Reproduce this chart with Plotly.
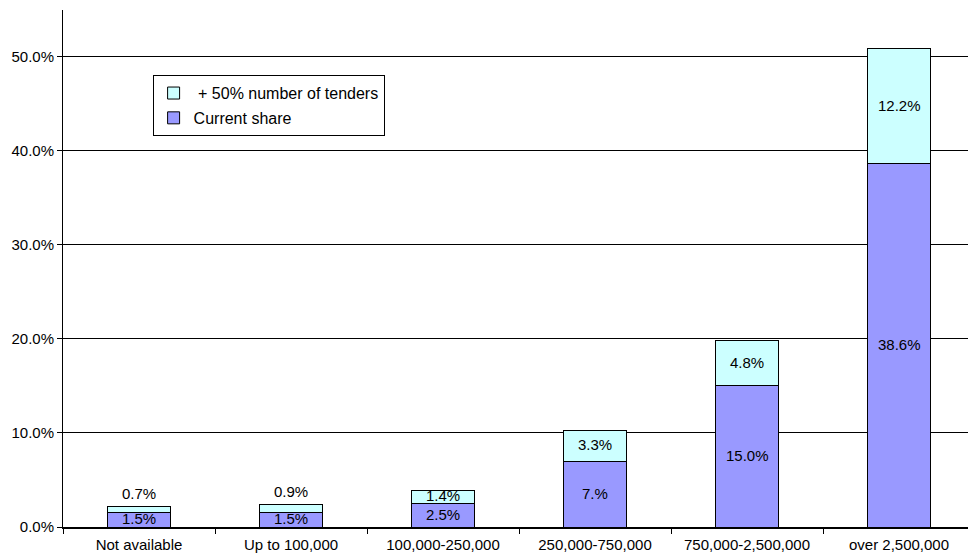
import plotly.graph_objects as go

# Tender value bands and share of tenders (percent)
categories = ["Not available", "Up to 100,000", "100,000-250,000",
              "250,000-750,000", "750,000-2,500,000", "over 2,500,000"]
current_share = [1.5, 1.5, 2.5, 7.0, 15.0, 38.6]
extra_tenders = [0.7, 0.9, 1.4, 3.3, 4.8, 12.2]
current_labels = ["1.5%", "1.5%", "2.5%", "7.%", "15.0%", "38.6%"]
extra_labels = ["0.7%", "0.9%", "1.4%", "3.3%", "4.8%", "12.2%"]

FONT = "Liberation Sans, Arial, sans-serif"
BAR_WIDTH = 0.41

fig = go.Figure()
fig.add_trace(go.Bar(
    x=categories, y=current_share, name="Current share",
    marker=dict(color="#9999FF", line=dict(color="black", width=1)),
    width=BAR_WIDTH, legendgroup="cur", legendrank=2,
))
fig.add_trace(go.Bar(
    x=categories, y=extra_tenders, name=" + 50% number of tenders",
    marker=dict(color="#CCFFFF", line=dict(color="black", width=1)),
    width=BAR_WIDTH, legendgroup="ext", legendrank=1,
))

# Value labels: centred in each segment, small top segments sit above the bar
annotations = []
for cat, cur, ext, cl, el in zip(categories, current_share, extra_tenders,
                                 current_labels, extra_labels):
    annotations.append(dict(x=cat, y=cur / 2, text=cl, showarrow=False,
                            yshift=1, font=dict(family=FONT, size=15, color="black")))
    ey = cur + ext / 2 if ext >= 1.0 else cur + ext + 1.3
    annotations.append(dict(x=cat, y=ey, text=el, showarrow=False,
                            yshift=1, font=dict(family=FONT, size=15, color="black")))

fig.update_layout(
    width=968, height=556,
    margin=dict(l=63, r=0, t=10, b=29),
    barmode="stack",
    plot_bgcolor="white", paper_bgcolor="white",
    font=dict(family=FONT, size=15, color="black"),
    showlegend=True,
    legend=dict(
        x=0.099, y=0.874, xanchor="left", yanchor="top",
        bgcolor="white", bordercolor="black", borderwidth=1,
        traceorder="grouped", tracegroupgap=1,
        font=dict(family=FONT, size=16, color="black"),
        itemwidth=30,
    ),
    annotations=annotations,
)
fig.update_xaxes(
    type="category", range=[-0.5, -0.5 + 905 / 152],
    tickson="boundaries", ticks="outside", ticklen=5, tickcolor="black",
    showline=True, linecolor="black", linewidth=2,
    showgrid=False, ticklabelstandoff=3,
    tickfont=dict(family=FONT, size=15, color="black"),
)
fig.update_yaxes(
    range=[0, 54.94], dtick=10, tickformat=".1f", ticksuffix="%",
    ticks="outside", ticklen=5, tickcolor="black",
    showline=True, linecolor="black", linewidth=1,
    showgrid=True, gridcolor="black", gridwidth=1, zeroline=False,
    tickfont=dict(family=FONT, size=15, color="black"),
)

fig.write_html("out.html")
